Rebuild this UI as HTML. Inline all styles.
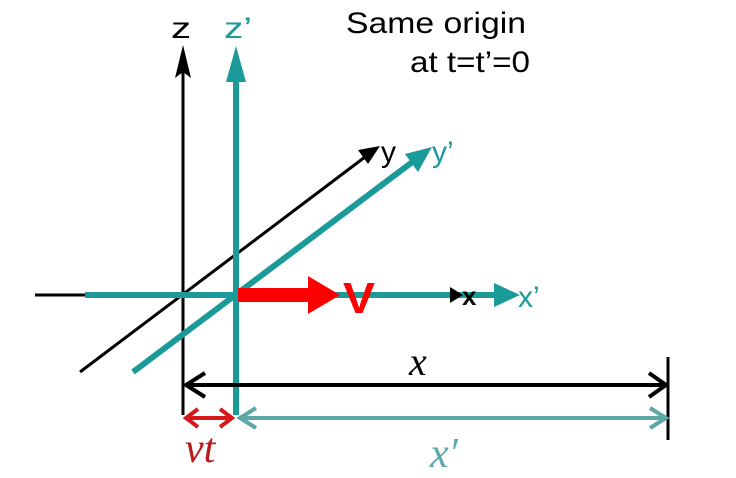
<!DOCTYPE html>
<html><head><style>body{margin:0;background:#fff}svg{display:block}</style></head><body>
<svg width="736" height="478" viewBox="0 0 736 478" xmlns="http://www.w3.org/2000/svg" font-family="Liberation Sans, sans-serif">
<line x1="183" y1="70" x2="183" y2="415" stroke="#000" stroke-width="3"/>
<polygon points="183,45 175,78 183,72 191,78" fill="#000"/>
<line x1="35" y1="295" x2="90" y2="295" stroke="#000" stroke-width="3"/>
<line x1="80" y1="372" x2="365" y2="157" stroke="#000" stroke-width="3"/>
<polygon points="380,146 358,150 368,164" fill="#000"/>
<line x1="236" y1="70" x2="236" y2="415" stroke="#1b9a9a" stroke-width="6"/>
<polygon points="236,46 226,82 246,82" fill="#1b9a9a"/>
<line x1="85" y1="295" x2="500" y2="295" stroke="#1b9a9a" stroke-width="6"/>
<polygon points="450,287 450,303 463,295" fill="#000"/>
<text x="462" y="305" font-size="26" font-weight="bold" fill="#000">x</text>
<polygon points="520,295 494,283 494,307" fill="#1b9a9a"/>
<line x1="133" y1="372" x2="415" y2="160" stroke="#1b9a9a" stroke-width="6"/>
<polygon points="432,147 405,154 418,172" fill="#1b9a9a"/>
<rect x="238" y="288" width="75" height="14" fill="#f00"/>
<polygon points="308,276 340,295 308,314" fill="#f00"/>
<text x="343" y="313" font-size="44" font-weight="bold" fill="#f00" textLength="32" lengthAdjust="spacingAndGlyphs">V</text>
<text x="171" y="38" font-size="30" textLength="20" lengthAdjust="spacingAndGlyphs">z</text>
<text x="224" y="38" font-size="30" fill="#1b9a9a" textLength="28" lengthAdjust="spacingAndGlyphs">z’</text>
<text x="381" y="162" font-size="30">y</text>
<text x="432" y="162" font-size="30" fill="#1b9a9a">y’</text>
<text x="518" y="307" font-size="30" fill="#1b9a9a">x’</text>
<text x="346" y="33" font-size="30" textLength="180" lengthAdjust="spacingAndGlyphs">Same origin</text>
<text x="410" y="72" font-size="30" textLength="120" lengthAdjust="spacingAndGlyphs">at t=t’=0</text>
<line x1="668" y1="357" x2="668" y2="440" stroke="#000" stroke-width="3"/>
<line x1="186" y1="385" x2="666" y2="385" stroke="#000" stroke-width="4"/>
<polyline points="205,373 186,385 205,397" fill="none" stroke="#000" stroke-width="4"/>
<polyline points="649,373 666,385 649,397" fill="none" stroke="#000" stroke-width="4"/>
<line x1="239" y1="418" x2="666" y2="418" stroke="#5ba8a6" stroke-width="4"/>
<polyline points="256,408 240,418 256,428" fill="none" stroke="#5ba8a6" stroke-width="4"/>
<polyline points="650,408 666,418 650,428" fill="none" stroke="#5ba8a6" stroke-width="4"/>
<line x1="185" y1="418" x2="233" y2="418" stroke="#d7181b" stroke-width="4"/>
<polyline points="198,409 186,418 198,427" fill="none" stroke="#d7181b" stroke-width="4"/>
<polyline points="220,409 232,418 220,427" fill="none" stroke="#d7181b" stroke-width="4"/>
<text x="409" y="375" font-size="40" font-style="italic" font-family="Liberation Serif, serif">x</text>
<text x="185" y="462" font-size="42" font-style="italic" font-family="Liberation Serif, serif" fill="#b81c1c">vt</text>
<text x="430" y="467" font-size="42" font-style="italic" font-family="Liberation Serif, serif" fill="#5ba8a6">x′</text>
</svg>
</body></html>
